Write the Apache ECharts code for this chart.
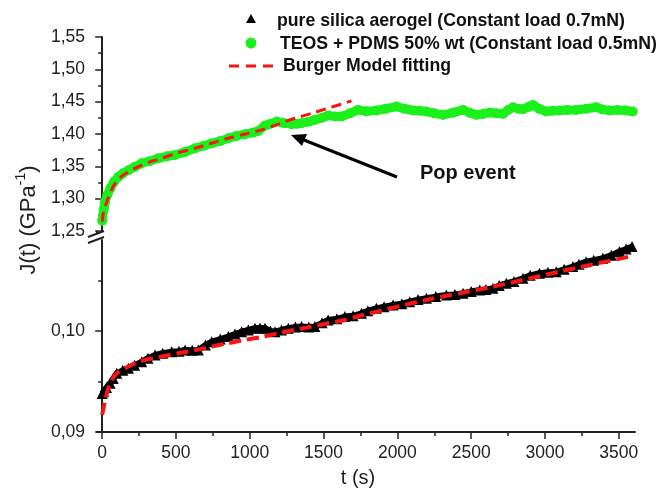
<!DOCTYPE html>
<html>
<head>
<meta charset="utf-8">
<script src="https://cdn.jsdelivr.net/npm/echarts@6/dist/echarts.min.js"></script>
<style>html,body{margin:0;padding:0;background:#fff}#c{width:661px;height:491px}</style>
</head>
<body>
<div id="c"></div>
<script>
// ---- data ----
var xTicks = [0, 500, 1000, 1500, 2000, 2500, 3000, 3500];
var xMinorTicks = [250, 750, 1250, 1750, 2250, 2750, 3250];
var yUpperTicks = [1.25, 1.30, 1.35, 1.40, 1.45, 1.50, 1.55];
var yLowerTicks = [0.09, 0.10];
var yLowerMinorTicks = [0.095, 0.105];

var seriesNames = [
  'pure silica aerogel (Constant load 0.7mN)',
  'TEOS + PDMS 50% wt (Constant load 0.5mN)',
  'Burger Model fitting'
];

// TEOS + PDMS 50% wt (t [s], J [GPa^-1])
var teosT = [0,10,20,35,55,80,110,140,178,220,268,320,381,440,494,560,629,690,742,800,855,910,968,1020,1058,1103,1140,1182,1230,1283,1320,1351,1400,1441,1490,1531,1580,1622,1680,1734,1790,1858,1920,1994,2050,2107,2150,2197,2250,2309,2380,2445,2490,2535,2580,2625,2670,2715,2750,2783,2820,2851,2890,2918,2960,3009,3050,3099,3150,3212,3280,3347,3390,3437,3490,3550,3595];
var teosJ = [1.266,1.283,1.295,1.306,1.316,1.326,1.334,1.339,1.344,1.349,1.3548,1.358,1.3625,1.3655,1.3676,1.372,1.378,1.382,1.3857,1.389,1.3935,1.397,1.3997,1.402,1.4048,1.413,1.416,1.4192,1.417,1.4152,1.416,1.4167,1.419,1.4218,1.425,1.4285,1.427,1.427,1.432,1.4373,1.435,1.4363,1.439,1.4424,1.439,1.4363,1.436,1.4347,1.432,1.4296,1.433,1.4373,1.433,1.4296,1.431,1.4331,1.432,1.4311,1.437,1.4414,1.439,1.4383,1.442,1.445,1.439,1.4347,1.436,1.4363,1.437,1.4373,1.439,1.4414,1.438,1.4363,1.437,1.4363,1.4347];

// pure silica aerogel
var silicaT = [0,9,30,54,75,99,140,178,220,268,310,359,410,471,520,562,610,652,700,742,800,855,900,945,990,1035,1070,1103,1140,1171,1215,1261,1310,1351,1400,1441,1490,1531,1590,1644,1700,1757,1800,1858,1910,1971,2030,2084,2140,2197,2260,2332,2390,2445,2500,2558,2600,2648,2690,2738,2790,2851,2900,2963,3020,3076,3130,3189,3230,3279,3330,3392,3450,3505,3550,3590];
var silicaJ = [0.0938,0.0940,0.0944,0.09482,0.0953,0.09581,0.0961,0.0963,0.0966,0.09696,0.0973,0.09762,0.0978,0.09795,0.0980,0.09812,0.0981,0.09812,0.0986,0.09894,0.0992,0.09944,0.0997,0.09993,0.1001,0.10027,0.1003,0.10027,0.1000,0.09993,0.1001,0.10027,0.1004,0.10043,0.1004,0.10043,0.1008,0.10109,0.1012,0.10142,0.1015,0.10175,0.1020,0.10224,0.1024,0.10257,0.1027,0.1029,0.1031,0.10323,0.1034,0.10356,0.1036,0.10373,0.1039,0.10406,0.1041,0.10422,0.1045,0.10472,0.1049,0.10521,0.1055,0.10571,0.1058,0.10587,0.1061,0.10637,0.1066,0.10686,0.1070,0.10719,0.1075,0.10785,0.1081,0.10835];

// Burger model fits
var fitUpperT = [0,10,32,60,88,130,178,250,320,404,500,629,740,855,970,1080,1190,1306,1420,1531,1620,1689];
var fitUpperJ = [1.2644,1.280,1.2954,1.312,1.3238,1.334,1.3418,1.350,1.3565,1.3625,1.370,1.378,1.3857,1.3935,1.400,1.4063,1.415,1.4244,1.432,1.440,1.446,1.4512];
var fitLowerT = [0,20,45,80,113,180,246,380,516,630,742,855,968,1080,1193,1300,1419,1530,1644,1746,2197,2648,3099,3573,3600];
var fitLowerJ = [0.0917,0.0931,0.09449,0.0955,0.09597,0.0965,0.09696,0.0974,0.09779,0.0981,0.09845,0.0988,0.09911,0.0994,0.09977,0.1001,0.10043,0.10076,0.10109,0.1015,0.10307,0.10439,0.10587,0.10736,0.1074];

function zip(a, b) { return a.map(function (v, i) { return [v, b[i]]; }); }
function comma(v, d) { return v.toFixed(d).replace('.', ','); }

var FONT = "'Liberation Sans', Arial, sans-serif";
var AX = '#222';
var GREEN = '#1cf01c';
var RED = '#f81414';
var LEG = 17.7;

var chart = echarts.init(document.getElementById('c'), null, {renderer: 'canvas'});

var option = {
  animation: false,
  backgroundColor: '#ffffff',
  grid: [
    {left: 97, right: 26, top: 37, height: 194},
    {left: 97, right: 26, top: 240, bottom: 59}
  ],
  xAxis: [
    {gridIndex: 0, type: 'value', min: -35, max: 3610, show: false},
    {gridIndex: 1, type: 'value', min: -35, max: 3610, position: 'bottom',
     name: 't (s)', nameLocation: 'middle', nameGap: 36,
     nameTextStyle: {fontFamily: FONT, fontSize: 20, color: AX, padding: [0, 16, 0, 0]},
     axisLine: {lineStyle: {color: AX, width: 2}},
     axisTick: {customValues: xTicks, length: 7, lineStyle: {color: AX, width: 1.5}},
     axisLabel: {customValues: xTicks, margin: 12, fontFamily: FONT, fontSize: 17.5, color: AX,
                 formatter: function (v) { return String(Math.round(v)); }},
     splitLine: {show: false}},
    {gridIndex: 1, type: 'value', min: -35, max: 3610, position: 'bottom',
     axisLine: {show: false},
     axisTick: {customValues: xMinorTicks, length: 4, lineStyle: {color: AX, width: 1.5}},
     axisLabel: {show: false}, splitLine: {show: false}}
  ],
  yAxis: [
    {gridIndex: 0, type: 'value', min: 1.25, max: 1.55, interval: 0.05, position: 'left',
     axisLine: {show: true, lineStyle: {color: AX, width: 2}},
     axisTick: {show: true, length: 7, lineStyle: {color: AX, width: 1.5}},
     minorTick: {show: true, splitNumber: 2, length: 4, lineStyle: {color: AX, width: 1.5}},
     axisLabel: {margin: 12, fontFamily: FONT, fontSize: 17.5, color: AX,
                 customValues: yUpperTicks,
                 formatter: function (v) { return comma(v, 2); }},
     splitLine: {show: false}, minorSplitLine: {show: false}},
    {gridIndex: 1, type: 'value', min: 0.09, max: 0.109, position: 'left',
     axisLine: {show: true, lineStyle: {color: AX, width: 2}},
     axisTick: {show: true, customValues: yLowerTicks, length: 7, lineStyle: {color: AX, width: 1.5}},
     axisLabel: {customValues: yLowerTicks, margin: 12, fontFamily: FONT, fontSize: 17.5, color: AX,
                 formatter: function (v) { return comma(v, 2); }},
     splitLine: {show: false}},
    {gridIndex: 1, type: 'value', min: 0.09, max: 0.109, position: 'left',
     axisLine: {show: false},
     axisTick: {show: true, customValues: yLowerMinorTicks, length: 4, lineStyle: {color: AX, width: 1.5}},
     axisLabel: {show: false}, splitLine: {show: false}}
  ],
  series: [
    {name: seriesNames[1], type: 'line', xAxisIndex: 0, yAxisIndex: 0,
     data: zip(teosT, teosJ), symbol: 'circle', symbolSize: 10, showAllSymbol: true,
     itemStyle: {color: GREEN}, lineStyle: {color: GREEN, width: 9}, z: 2},
    {name: seriesNames[2], type: 'line', xAxisIndex: 0, yAxisIndex: 0,
     data: zip(fitUpperT, fitUpperJ), symbol: 'none', smooth: 0.3,
     lineStyle: {color: RED, width: 3, type: [10, 6]}, z: 3},
    {name: seriesNames[0], type: 'line', xAxisIndex: 1, yAxisIndex: 1,
     data: zip(silicaT, silicaJ), symbol: 'triangle', symbolSize: 11, showAllSymbol: true,
     itemStyle: {color: '#000'}, lineStyle: {color: '#000', width: 6}, z: 2},
    {name: seriesNames[2], type: 'line', xAxisIndex: 1, yAxisIndex: 1,
     data: zip(fitLowerT, fitLowerJ), symbol: 'none', smooth: 0.3,
     lineStyle: {color: RED, width: 4, type: [12, 6]}, z: 3}
  ],
  graphic: [
    // axis break
    {type: 'line', shape: {x1: 97, y1: 231, x2: 97, y2: 234}, style: {stroke: AX, lineWidth: 2}},
    {type: 'line', shape: {x1: 88, y1: 237, x2: 104, y2: 231}, style: {stroke: AX, lineWidth: 2}},
    {type: 'line', shape: {x1: 88, y1: 243, x2: 104, y2: 237}, style: {stroke: AX, lineWidth: 2}},
    // y axis title
    {type: 'text', x: 27, y: 220, rotation: Math.PI / 2,
     style: {text: '{a|J(t) (GPa}{s|-1}{a|)}', align: 'center', verticalAlign: 'middle',
             rich: {a: {fontFamily: FONT, fontSize: 22, fill: AX, verticalAlign: 'bottom'},
                    s: {fontFamily: FONT, fontSize: 14, fill: AX, verticalAlign: 'bottom', padding: [0, 0, 11, 0]}}}},
    // legend
    {type: 'polygon', shape: {points: [[251, 14], [256, 23], [246, 23]]}, style: {fill: '#000'}},
    {type: 'text', x: 277, y: 21, style: {text: seriesNames[0], fontFamily: FONT, fontWeight: 'bold', fontSize: LEG, fill: '#111', verticalAlign: 'middle'}},
    {type: 'circle', shape: {cx: 251, cy: 43, r: 5.5}, style: {fill: GREEN}},
    {type: 'text', x: 280, y: 44, style: {text: seriesNames[1], fontFamily: FONT, fontWeight: 'bold', fontSize: LEG, fill: '#111', verticalAlign: 'middle'}},
    {type: 'line', shape: {x1: 229, y1: 66, x2: 273, y2: 66}, style: {stroke: RED, lineWidth: 3, lineDash: [10, 7]}},
    {type: 'text', x: 283, y: 66, style: {text: seriesNames[2], fontFamily: FONT, fontWeight: 'bold', fontSize: LEG, fill: '#111', verticalAlign: 'middle'}},
    // annotation arrow
    {type: 'line', shape: {x1: 397, y1: 177, x2: 304, y2: 140}, style: {stroke: '#000', lineWidth: 3}},
    {type: 'polygon', shape: {points: [[291, 135], [307, 134], [302, 146]]}, style: {fill: '#000'}},
    {type: 'text', x: 420, y: 173, style: {text: 'Pop event', fontFamily: FONT, fontWeight: 'bold', fontSize: 20, fill: '#111', verticalAlign: 'middle'}}
  ]
};
chart.setOption(option);
</script>
</body>
</html>
